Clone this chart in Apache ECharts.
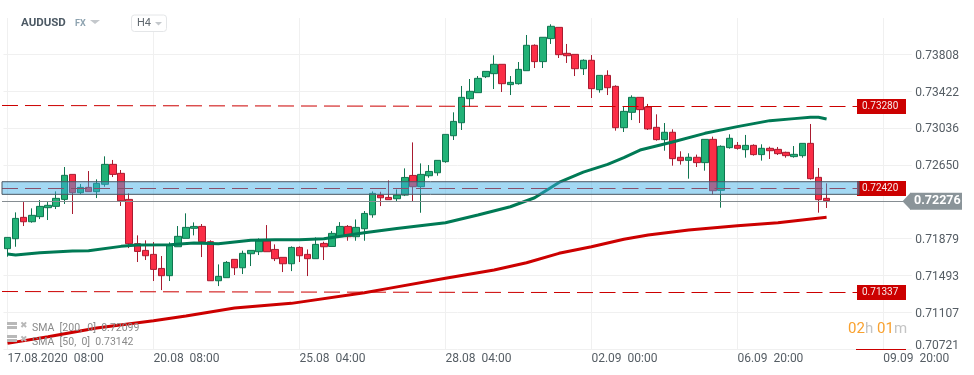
<!DOCTYPE html>
<html><head><meta charset="utf-8">
<style>html,body{margin:0;padding:0;background:#fff}#c{width:974px;height:375px}</style>
<script src="https://cdn.jsdelivr.net/npm/echarts@6/dist/echarts.min.js"></script>
</head><body><div id="c"></div>
<script>
const opens = [.71772,.71876,.72100,.72054,.72107,.72201,.72215,.72288,.72550,.72358,.72414,.72369,.72446,.72655,.72561,.72288,.71824,.71754,.71712,.71565,.71489,.71792,.71880,.71985,.72005,.71845,.71436,.71468,.71660,.71572,.71719,.71740,.71852,.71764,.71681,.71614,.71785,.71712,.71667,.71827,
.71795,.71897,.72005,.71897,.71981,.72127,.72333,.72309,.72295,.72333,.72539,.72421,.72536,.72567,.72683,.72955,.73091,.73343,.73406,.73573,.73605,.73703,.73490,.73500,.73636,.73902,.73731,.73972,.74090,.73818,.73807,.73657,.73745,.73437,.73587,
.73472,.73039,.73200,.73357,.73256,.73043,.72914,.72991,.72729,.72697,.72729,.72673,.72917,.72383,.72830,.72854,.72809,.72854,.72757,.72823,.72812,.72781,.72736,.72746,.72875,.72519,.72299];
const closes = [.71890,.72089,.72054,.72121,.72215,.72226,.72299,.72540,.72358,.72414,.72369,.72456,.72655,.72550,.72274,.71824,.71743,.71698,.71555,.71489,.71803,.71901,.71995,.72005,.71845,.71436,.71482,.71628,.71572,.71723,.71754,.71852,.71740,.71667,.71614,.71785,.71698,.71667,.71817,.71792,
.71932,.72005,.71897,.71995,.72141,.72351,.72305,.72285,.72333,.72518,.72421,.72550,.72581,.72697,.72969,.73105,.73357,.73420,.73556,.73629,.73703,.73500,.73514,.73650,.73902,.73731,.73986,.74101,.73804,.73793,.73657,.73745,.73448,.73587,.73458,
.73039,.73210,.73357,.73228,.73026,.72914,.72991,.72715,.72694,.72729,.72673,.72917,.72379,.72844,.72928,.72823,.72854,.72757,.72823,.72798,.72767,.72746,.72760,.72875,.72505,.72285,.72275];
const lows = [.71688,.71792,.72009,.72044,.72082,.72072,.72187,.72240,.72135,.72344,.72369,.72302,.72421,.72522,.72219,.71778,.71632,.71653,.71433,.71338,.71433,.71792,.71880,.71911,.71684,.71436,.71380,.71468,.71496,.71506,.71590,.71705,.71740,.71642,.71527,.71537,.71632,.71485,.71667,.71653,
.71795,.71897,.71855,.71855,.71855,.72096,.72218,.72285,.72270,.72323,.72270,.72148,.72515,.72536,.72672,.72910,.73015,.73259,.73406,.73559,.73444,.73413,.73381,.73490,.73636,.73664,.73664,.73916,.73769,.73717,.73580,.73591,.73350,.73406,.73381,
.73008,.72994,.73119,.73088,.73015,.72903,.72798,.72641,.72652,.72505,.72627,.72589,.72341,.72201,.72819,.72809,.72725,.72746,.72694,.72711,.72753,.72725,.72725,.72725,.72495,.72149,.72198];
const highs = [.71890,.72152,.72260,.72194,.72281,.72260,.72372,.72627,.72550,.72449,.72585,.72498,.72739,.72701,.72596,.72351,.71911,.71859,.71841,.71695,.71838,.72009,.72142,.72047,.72030,.71859,.71607,.71642,.71660,.71751,.71754,.71880,.72019,.71817,.71681,.71796,.71796,.71764,.71890,.71845,
.71956,.72050,.72019,.72078,.72166,.72372,.72368,.72487,.72393,.72613,.72885,.72665,.72648,.72697,.72969,.73200,.73476,.73549,.73580,.73629,.73797,.73703,.73580,.73727,.74010,.73912,.73986,.74122,.74090,.73916,.73807,.73755,.73800,.73587,.73640,
.73483,.73262,.73378,.73357,.73288,.73179,.73088,.73022,.72792,.72771,.72757,.72917,.72945,.72854,.72970,.72889,.72963,.72865,.72865,.72840,.72837,.72788,.72847,.72875,.73078,.72617,.72456];

const sma50Bars = [0,1,4,8,10,14,16,20,23,26,30,33,36,39,44,48,54,58,62,65,68,71,74,76,78,82,86,90,94,97,99,100,101];
const sma50Vals = [.71716,.71705,.71730,.71747,.71751,.71796,.71810,.71813,.71831,.71824,.71859,.71866,.71866,.71876,.71939,.71984,.72043,.72124,.72211,.72305,.72466,.72574,.72655,.72725,.72805,.72889,.72980,.73050,.73113,.73134,.73148,.73148,.73130];
const sma200Bars = [0,5,11,18,22,28,35,44,47,54,60,64,68,72,76,79,84,90,95,98,101];
const sma200Vals = [.70780,.70849,.70940,.71017,.71066,.71150,.71199,.71310,.71356,.71461,.71548,.71624,.71723,.71792,.71870,.71915,.71967,.72012,.72044,.72072,.72100];

const priceTicks = [.70721,.71107,.71493,.71879,.72265,.7265,.73036,.73422,.73808];
const timeTicks = ['17.08.2020  08:00','20.08  08:00','25.08  04:00','28.08  04:00','02.09  00:00','06.09  20:00','09.09  20:00'];
const levelStart = [.732715,.72402,.71323];
const levelEnd = [.73261,.72402,.71312];
const levelLabels = ['0.73280','0.72420','0.71337'];
const currentPrice = .72268, currentLabel = '0.72276';
const zoneTop = .72473, zoneBottom = .72341;
const legendTexts = ['SMA  [200,  0]  0.72099','SMA  [50,  0]  0.73142'];

const BAR_COUNT = 112, TICK_STEP = 18;
const categories = Array.from({length: BAR_COUNT}, (_, i) => (i % TICK_STEP === 0 && timeTicks[i / TICK_STEP]) || '');
const candles = opens.map((o, i) => [o, closes[i], lows[i], highs[i]]);
const pairs = (a, b) => a.map((x, i) => [x, b[i]]);
const LINE_LEFT = 2, LINE_BEND_BAR = 73, LINE_END_BAR = 105, LINE_END_X = 857;
const RED = '#cc0000', FONT = 'Roboto, sans-serif', AXIS_TEXT = '#555d64';

const levelLines = levelLabels.flatMap((text, i) => [
  [{xAxis: 0, x: LINE_LEFT, yAxis: levelStart[i], label: {show: false}}, {xAxis: LINE_BEND_BAR, yAxis: levelEnd[i]}],
  [{xAxis: LINE_BEND_BAR, yAxis: levelEnd[i],
    label: {show: true, position: 'end', distance: 0, formatter: text, color: '#f7e9e9',
     backgroundColor: RED, width: 44, padding: [3, 0, 2, 5], align: 'left', verticalAlign: 'middle',
     fontSize: 10, fontFamily: FONT, lineHeight: 10}},
   {xAxis: LINE_END_BAR, x: LINE_END_X, yAxis: levelEnd[i]}]
]);

const option = {
  animation: false,
  backgroundColor: '#fff',
  grid: {left: 3.45, top: 18, width: 908.3, height: 331, containLabel: false},
  xAxis: {
    type: 'category', data: categories, boundaryGap: true,
    axisLine: {show: false},
    axisTick: {show: false, interval: TICK_STEP - 1, alignWithLabel: true},
    axisLabel: {interval: TICK_STEP - 1, align: 'left', margin: 4, color: AXIS_TEXT, fontSize: 12, fontFamily: FONT,
      hideOverlap: false},
    splitLine: {show: true, interval: TICK_STEP - 1, alignWithLabel: true, lineStyle: {color: '#f0f0f0', width: 1}}
  },
  yAxis: {
    type: 'value', position: 'right', min: .70721, max: .74188, scale: true,
    axisLine: {show: false},
    axisTick: {show: false, customValues: priceTicks},
    axisLabel: {customValues: priceTicks, inside: false, margin: 3.5, color: AXIS_TEXT, fontSize: 12, fontFamily: FONT,
      padding: [3, 0, 0, 0],
      formatter: v => v === priceTicks[0] ? '{low|' + v.toFixed(5) + '}' : v.toFixed(5),
      rich: {low: {color: AXIS_TEXT, fontSize: 12, fontFamily: FONT, padding: [0, 0, 9, 0]}}},
    splitLine: {show: true, lineStyle: {color: '#f0f0f0', width: 1}}
  },
  series: [
    {
      type: 'candlestick', name: 'AUDUSD', data: candles, barWidth: 7, clip: false, z: 2,
      itemStyle: {color: '#22b277', color0: '#fb2d46', borderColor: '#0f7550', borderColor0: '#a91b30', borderWidth: 1},
      markLine: {
        silent: true, symbol: 'none', z: 5, animation: false,
        lineStyle: {color: RED, type: [16, 7], width: 1},
        data: levelLines
      },
      markArea: {
        silent: true, z: 6, animation: false,
        itemStyle: {color: 'rgba(58,171,229,0.467)', borderColor: '#4a5763', borderWidth: 1},
        data: [[{xAxis: 0, x: LINE_LEFT, yAxis: zoneTop}, {xAxis: LINE_END_BAR, yAxis: zoneBottom}]]
      }
    },
    {type: 'line', name: 'SMA50', data: pairs(sma50Bars, sma50Vals), showSymbol: false, z: 3, silent: true,
     lineStyle: {color: '#007a55', width: 3}},
    {type: 'line', name: 'SMA200', data: pairs(sma200Bars, sma200Vals), showSymbol: false, z: 3, silent: true,
     lineStyle: {color: RED, width: 3}},
    {type: 'line', name: 'current', data: [], silent: true,
     markLine: {
       silent: true, symbol: 'none', z: 7, animation: false,
       lineStyle: {color: '#868d92', type: 'solid', width: 1},
       data: [[{xAxis: 0, x: LINE_LEFT, yAxis: currentPrice},
         {xAxis: 110, x: 910, yAxis: currentPrice}]],
       label: {show: true, position: 'end', distance: 0, formatter: currentLabel, color: '#fff', fontWeight: 'bold',
         backgroundColor: '#8a9499', width: 45, padding: [2, 3, 2, 4], align: 'left', verticalAlign: 'middle', fontSize: 12.5, fontFamily: FONT, lineHeight: 13}
     },
     markPoint: {
       silent: true, z: 7, animation: false, symbol: 'triangle', symbolRotate: 90, symbolSize: [17, 8],
       itemStyle: {color: '#8a9499'}, label: {show: false},
       data: [{xAxis: 110, x: 906.5, yAxis: currentPrice}]
     }}
  ],
  graphic: [
    {type: 'text', left: 21, top: 17, z: 20, style: {text: 'AUDUSD', font: 'bold 11.5px ' + FONT, fill: '#4d5a65'}},
    {type: 'text', left: 75, top: 19, z: 20, style: {text: 'FX', font: 'bold 9px ' + FONT, fill: '#8ea3b0'}},
    {type: 'polygon', z: 20, shape: {points: [[90, 20], [100, 20], [95, 24]]}, style: {fill: '#c4c8cc'}},
    {type: 'rect', z: 20, shape: {x: 131.5, y: 15, width: 35, height: 16.5, r: 3}, style: {fill: '#fff', stroke: '#e4e6e8', lineWidth: 1}},
    {type: 'text', left: 137, top: 18, z: 21, style: {text: 'H4', font: '11px ' + FONT, fill: '#5f676e'}},
    {type: 'polygon', z: 21, shape: {points: [[155, 22], [162, 22], [158.5, 25.5]]}, style: {fill: '#c4c8cc'}},

    {type: 'rect', z: 20, shape: {x: 7, y: 322, width: 10, height: 7}, style: {fill: '#b8b8b8'}},
    {type: 'rect', z: 20, shape: {x: 7, y: 325, width: 10, height: 1}, style: {fill: '#fff'}},
    {type: 'rect', z: 20, shape: {x: 7, y: 335, width: 10, height: 7}, style: {fill: '#b8b8b8'}},
    {type: 'rect', z: 20, shape: {x: 7, y: 338, width: 10, height: 1}, style: {fill: '#fff'}},
    {type: 'text', left: 20, top: 321, z: 20, style: {text: '\u2716', font: '9px "DejaVu Sans"', fill: '#b8b8b8'}},
    {type: 'text', left: 20, top: 335, z: 20, style: {text: '\u2716', font: '9px "DejaVu Sans"', fill: '#b8b8b8'}},
    {type: 'text', left: 32, top: 323, z: 20, style: {text: legendTexts[0], font: '10.5px ' + FONT, fill: '#8a8a8a'}},
    {type: 'text', left: 32, top: 337, z: 20, style: {text: legendTexts[1], font: '10.5px ' + FONT, fill: '#8a8a8a'}},

    {type: 'text', left: 848, top: 322, z: 20, style: {text: '02', font: '15px ' + FONT, fill: '#f9a12e'}},
    {type: 'text', left: 865, top: 322, z: 20, style: {text: 'h', font: '15px ' + FONT, fill: '#c4c4c4'}},
    {type: 'text', left: 877, top: 322, z: 20, style: {text: '01', font: '15px ' + FONT, fill: '#f9a12e'}},
    {type: 'text', left: 894, top: 322, z: 20, style: {text: 'm', font: '15px ' + FONT, fill: '#c4c4c4'}},
    {type: 'rect', z: 20, shape: {x: 856, y: 349, width: 50, height: 1}, style: {fill: RED}}
  ]
};
const chart = echarts.init(document.getElementById('c'), null, {renderer: 'canvas', width: 974, height: 375});
chart.setOption(option);
</script></body></html>
